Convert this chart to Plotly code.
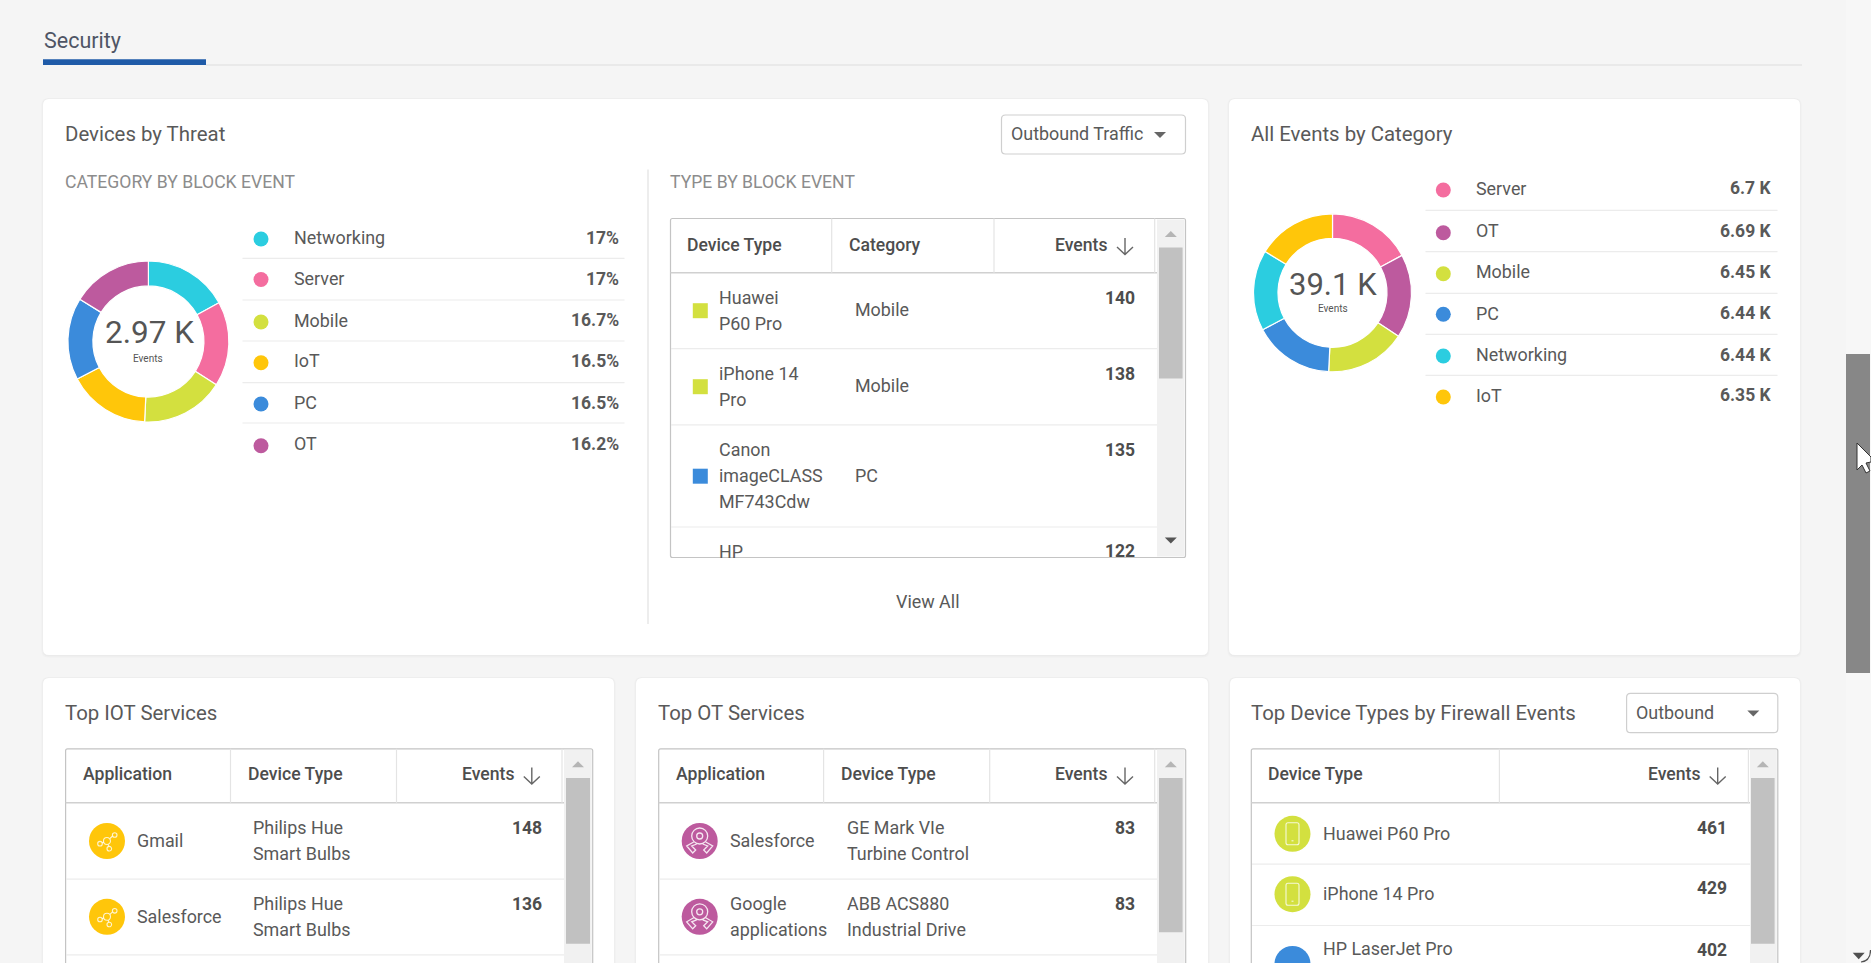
import plotly.graph_objects as go

WIDTH = 1871
HEIGHT = 963
FONT = "Roboto"
TEXT = "#595959"
DARK = "#4d4d4d"
LINE = "#ececec"
BODY = 17.9
HEAD = 17.6
VALUE = 17.5
TITLE = 20.4
LINE_GAP = 26

# Chart data
threat_categories = ["Networking", "Server", "Mobile", "IoT", "PC", "OT"]
threat_share = [17, 17, 16.7, 16.5, 16.5, 16.2]
threat_labels = ["17%", "17%", "16.7%", "16.5%", "16.5%", "16.2%"]
threat_total = "2.97 K"

all_categories = ["Server", "OT", "Mobile", "PC", "Networking", "IoT"]
all_events = [6700, 6690, 6450, 6440, 6440, 6350]
all_labels = ["6.7 K", "6.69 K", "6.45 K", "6.44 K", "6.44 K", "6.35 K"]
all_total = "39.1 K"

colors = {
    "Networking": "#2bcde0",
    "Server": "#f46d9f",
    "Mobile": "#d3e03f",
    "IoT": "#ffc60a",
    "PC": "#3b8bdb",
    "OT": "#bd5a9e",
}

type_names = ["Huawei<br>P60 Pro", "iPhone 14<br>Pro", "Canon<br>imageCLASS<br>MF743Cdw", "HP"]
type_categories = ["Mobile", "Mobile", "PC", ""]
type_events = ["140", "138", "135", "122"]

iot_apps = ["Gmail", "Salesforce"]
iot_devices = ["Philips Hue<br>Smart Bulbs", "Philips Hue<br>Smart Bulbs"]
iot_events = ["148", "136"]

ot_apps = ["Salesforce", "Google<br>applications"]
ot_devices = ["GE Mark VIe<br>Turbine Control", "ABB ACS880<br>Industrial Drive"]
ot_events = ["83", "83"]

firewall_devices = ["Huawei P60 Pro", "iPhone 14 Pro", "HP LaserJet Pro"]
firewall_events = ["461", "429", "402"]

shapes = []
annotations = []
marker_x, marker_y, marker_color, marker_symbol, marker_size = [], [], [], [], []


def rounded(x0, y0, x1, y1, r):
    return (f"M{x0+r},{y0} L{x1-r},{y0} Q{x1},{y0} {x1},{y0+r} L{x1},{y1-r} Q{x1},{y1} {x1-r},{y1} "
            f"L{x0+r},{y1} Q{x0},{y1} {x0},{y1-r} L{x0},{y0+r} Q{x0},{y0} {x0+r},{y0} Z")


def add_path(path, fill=None, color=None, width=1):
    shapes.append(dict(type="path", path=path, xref="x", yref="y", layer="below",
                       fillcolor=fill if fill else "rgba(0,0,0,0)",
                       line=dict(color=color if color else "rgba(0,0,0,0)", width=width if color else 0)))


def add_rect(x0, y0, x1, y1, fill):
    shapes.append(dict(type="rect", xref="x", yref="y", x0=x0, y0=y0, x1=x1, y1=y1,
                       fillcolor=fill, line=dict(width=0), layer="below"))


def add_line(x0, y0, x1, y1, color=LINE, width=1.2):
    shapes.append(dict(type="line", xref="x", yref="y", x0=x0, y0=y0, x1=x1, y1=y1,
                       line=dict(color=color, width=width), layer="below"))


def label(x, y, text, size=BODY, color=TEXT, anchor="left", weight=400):
    # each line is its own annotation so the line gap can follow the reference
    nudge = {"left": -1.5, "right": 2, "center": 0}[anchor]
    parts = text.split("<br>")
    for j, part in enumerate(parts):
        annotations.append(dict(x=x + nudge, y=y + (j - (len(parts) - 1) / 2) * LINE_GAP, xref="x", yref="y",
                                text=part, showarrow=False, xanchor=anchor, yanchor="middle", align=anchor,
                                borderpad=0, font=dict(family=FONT, size=size, color=color, weight=weight)))


def add_marker(x, y, color, symbol="circle", size=15):
    marker_x.append(x)
    marker_y.append(y)
    marker_color.append(color)
    marker_symbol.append(symbol)
    marker_size.append(size)


def card(x0, y0, x1, y1):
    add_path(rounded(x0 - 1.5, y0 - 1, x1 + 1.5, y1 + 2.5, 7), fill="#f0f0f0")
    add_path(rounded(x0 - 0.5, y0 - 0.5, x1 + 0.5, y1 + 1.2, 6), fill="#ebebeb")
    add_path(rounded(x0, y0, x1, y1, 6), fill="#ffffff")


def triangle(x, y, w, h, color, up=False):
    tip = y - h / 2 if up else y + h / 2
    base = y + h / 2 if up else y - h / 2
    add_path(f"M{x-w/2},{base} L{x+w/2},{base} L{x},{tip} Z", fill=color)


def dropdown(x0, y0, x1, y1, text, text_x, tri_x):
    add_path(rounded(x0, y0, x1, y1, 4), fill="#ffffff", color="#cfcfcf", width=1.2)
    label(text_x, (y0 + y1) / 2 - 1, text)
    triangle(tri_x, (y0 + y1) / 2 + 0.5, 12, 6, "#666666")


def sort_arrow(x, y):
    add_path(f"M{x},{y-8} L{x},{y+8.5} M{x-8},{y+1} L{x},{y+8.5} L{x+8},{y+1}", color="#666666", width=1.4)


def table_frame(x0, y0, x1, y1, head_y, seps, track_x, thumb, thumb_y):
    add_path(rounded(x0, y0, x1, y1, 2), fill="#ffffff", color="#c4c4c4", width=1.2)
    add_rect(track_x, y0 + 1, x1 - 1, y1 - 1, "#f1f1f1")
    add_line(x0, head_y, track_x, head_y, color="#d0d0d0", width=1.4)
    for s in seps:
        add_line(s, y0, s, head_y, color="#e4e4e4")
    add_rect(thumb[0], thumb_y[0], thumb[1], thumb_y[1], "#c1c1c1")
    triangle((thumb[0] + thumb[1]) / 2, y0 + 15.5, 12, 6, "#b5b5b5", up=True)


def legend(categories, labels, dot_x, dot_ys, text_x, text_ys, right_x, sep_x0, sep_x1, sep_ys):
    for i, cat in enumerate(categories):
        add_marker(dot_x, dot_ys[i], colors[cat])
        label(text_x, text_ys[i], cat)
        label(right_x, text_ys[i], labels[i], size=VALUE, anchor="right", weight=700)
    for y in sep_ys:
        add_line(sep_x0, y, sep_x1, y)


def donut(categories, values, cx, cy, r):
    return go.Pie(labels=categories, values=values, sort=False, direction="clockwise", rotation=0,
                  hole=0.69, textinfo="none", hoverinfo="label+value", showlegend=False,
                  marker=dict(colors=[colors[c] for c in categories], line=dict(color="#ffffff", width=1.2)),
                  domain=dict(x=[(cx - r) / WIDTH, (cx + r) / WIDTH],
                              y=[1 - (cy + r) / HEIGHT, 1 - (cy - r) / HEIGHT]))


def above_circle(cx, cy, r, stroke, width=1.1):
    shapes.append(dict(type="circle", xref="x", yref="y", x0=cx-r, y0=cy-r, x1=cx+r, y1=cy+r,
                       fillcolor="rgba(0,0,0,0)", line=dict(color=stroke, width=width), layer="above"))


def above_path(path, stroke, width=1.1):
    shapes.append(dict(type="path", xref="x", yref="y", layer="above", path=path, line=dict(color=stroke, width=width)))


def network_icon(cx, cy):
    stroke = "rgba(255,255,255,0.8)"
    above_path(f"M{cx-5},{cy+2} L{cx-3},{cy+1} M{cx+3},{cy-2.5} L{cx+5.5},{cy-5} M{cx+1},{cy+3.5} L{cx+2},{cy+5.5}", stroke)
    above_circle(cx, cy, 3.5, stroke)
    above_circle(cx - 7, cy + 2.7, 2.3, stroke)
    above_circle(cx + 7.7, cy - 6, 2.3, stroke)
    above_circle(cx + 2.3, cy + 7.7, 2.3, stroke)


def robot_icon(cx, cy):
    stroke = "rgba(255,255,255,0.85)"
    above_circle(cx, cy - 5, 8, stroke, 1.3)
    above_circle(cx, cy - 5, 3, stroke, 1.3)
    above_path(f"M{cx-6},{cy+1} L{cx-13},{cy+5} L{cx-7},{cy+12} L{cx-4},{cy+9} L{cx-8},{cy+5} L{cx-3},{cy+3} "
               f"M{cx+6},{cy+1} L{cx+13},{cy+5} L{cx+7},{cy+12} L{cx+4},{cy+9} L{cx+8},{cy+5} L{cx+3},{cy+3}", stroke, 1.3)


def phone_icon(cx, cy):
    stroke = "rgba(255,255,255,0.8)"
    above_path(rounded(cx-6.5, cy-11, cx+6.5, cy+11, 2), stroke)
    above_path(f"M{cx-1},{cy+7} L{cx+1},{cy+7}", stroke)


# Page
add_rect(1846, 0, 1871, HEIGHT, "#f7f7f7")
add_rect(1846, 354, 1870, 673, "#878787")
triangle(1858.7, 956, 12, 6.5, "#505050")
add_path("M1870.5,950 Q1870.5,961 1861,962", color="#505050", width=1.2)
add_path("M1857,443 L1857,470 L1862,465 L1866,473 L1870,471 L1866,463 L1871,462 L1871,457 Z",
         fill="#ffffff", color="#333333", width=1)

label(44, 40.5, "Security", size=21.5, color="#4f5565")
add_line(206, 65, 1802, 65, color="#dedede", width=1.2)
add_rect(43, 59.3, 206, 65, "#1f5ba8")

# Devices by Threat card
card(43, 99, 1208, 655)
label(65.5, 133.5, "Devices by Threat", size=TITLE)
label(65.5, 182, "CATEGORY BY BLOCK EVENT", size=17.6, color="#8c8c8c")
dropdown(1001.5, 115, 1185.5, 154, "Outbound Traffic", 1011.5, 1160)
add_line(648, 169.5, 648, 624, color="#e6e6e6", width=1.4)
label(670.5, 181.7, "TYPE BY BLOCK EVENT", size=17.6, color="#8c8c8c")

legend(threat_categories, threat_labels, 261, [239, 279.5, 322, 362.7, 404, 445.7], 294,
       [237.7, 278.7, 320, 360.5, 402.5, 443.5], 618, 242.5, 624.5, [258.3, 300, 341, 382.7, 423])
label(149, 332.7, threat_total, size=31.5, color="#555555", anchor="center")
label(148, 358, "Events", size=10, color="#555555", anchor="center")

# Device type table
table_frame(670.5, 218.5, 1185.5, 557.5, 272.8, [831.7, 994, 1154.7], 1157, (1159, 1182.6), (247.6, 378.6))
triangle(1170.8, 540.6, 12, 6, "#555555")
label(687.8, 244.6, "Device Type", size=HEAD, color=DARK, weight=500)
label(849, 244.6, "Category", size=HEAD, color=DARK, weight=500)
label(1105.7, 244.6, "Events", size=HEAD, color=DARK, anchor="right", weight=500)
sort_arrow(1125, 246)
for y in [348.6, 424.8, 527]:
    add_line(671, y, 1157, y)

type_mid = [309.5, 385.5, 475]
type_top = [297.5, 373.8, 450, 551]
type_text_y = [310.6, 386.9, 475]
for i in range(3):
    add_marker(700.3, type_mid[i] + 1.2, colors[type_categories[i]], "square", 15)
    label(719, type_text_y[i], type_names[i])
    label(855, type_mid[i], type_categories[i])
for i in range(4):
    label(1134, type_top[i], type_events[i], size=VALUE, color=DARK, anchor="right", weight=700)
label(719, 551, type_names[3])
label(927.7, 601.6, "View All", anchor="center")
annotations.append(dict(x=672, y=558.6, xref="x", yref="y", text=" ", showarrow=False, xanchor="left",
                        yanchor="top", width=480, height=12, bgcolor="#ffffff", borderpad=0))

# All Events card
card(1229, 99, 1800, 655)
label(1251, 134, "All Events by Category", size=TITLE)
legend(all_categories, all_labels, 1443.3, [190, 232.7, 273.7, 314.3, 356, 397], 1476,
       [188.3, 230.7, 271.7, 313.3, 354.7, 395.3], 1771, 1425.5, 1777.5, [210.3, 251.7, 293.3, 334.3, 375.3])
label(1333, 284, all_total, size=31, color="#555555", anchor="center")
label(1333, 308, "Events", size=10, color="#555555", anchor="center")

# Top IOT Services
card(43, 678, 614, 980)
label(65.5, 713, "Top IOT Services", size=TITLE)
table_frame(65.6, 748.8, 592.7, 990, 802.8, [230.5, 396.5, 562], 564, (566, 590), (778, 943.7))
label(83.4, 774.3, "Application", size=HEAD, color=DARK, weight=500)
label(248.7, 774.3, "Device Type", size=HEAD, color=DARK, weight=500)
label(512.8, 774.3, "Events", size=HEAD, color=DARK, anchor="right", weight=500)
sort_arrow(531.8, 775.5)
for y in [879.2, 954.8]:
    add_line(66, y, 564, y)
for i, row_y in enumerate([841, 916.8]):
    add_marker(107, row_y, colors["IoT"], size=36)
    network_icon(107, row_y)
    label(137.5, row_y - 0.5, iot_apps[i])
    label(253.8, row_y - 0.5, iot_devices[i])
    label(541, row_y - 13, iot_events[i], size=VALUE, color=DARK, anchor="right", weight=700)

# Top OT Services
card(636, 678, 1208, 980)
label(658.7, 713, "Top OT Services", size=TITLE)
table_frame(658.7, 748.8, 1185.7, 990, 802.8, [823.6, 989.7, 1154.7], 1157, (1159, 1182.6), (778, 932.3))
label(676.3, 774.3, "Application", size=HEAD, color=DARK, weight=500)
label(841.6, 774.3, "Device Type", size=HEAD, color=DARK, weight=500)
label(1105.7, 774.3, "Events", size=HEAD, color=DARK, anchor="right", weight=500)
sort_arrow(1125, 775.5)
for y in [879.2, 954.8]:
    add_line(659, y, 1157, y)
for i, row_y in enumerate([841, 916.8]):
    add_marker(699.7, row_y, colors["OT"], size=36)
    robot_icon(699.7, row_y)
    label(730, row_y - 0.5, ot_apps[i])
    label(847, row_y - 0.5, ot_devices[i])
    label(1134, row_y - 13, ot_events[i], size=VALUE, color=DARK, anchor="right", weight=700)

# Top Device Types by Firewall Events
card(1230, 678, 1800, 980)
label(1251.3, 713, "Top Device Types by Firewall Events", size=TITLE)
dropdown(1626.6, 693.3, 1777.8, 732.7, "Outbound", 1636, 1753.3)
table_frame(1251.3, 748.8, 1777.8, 990, 802.8, [1499.4, 1748.4], 1750, (1751, 1774.6), (778, 943.7))
label(1268.8, 774.3, "Device Type", size=HEAD, color=DARK, weight=500)
label(1698.5, 774.3, "Events", size=HEAD, color=DARK, anchor="right", weight=500)
sort_arrow(1717.7, 775.5)
for y in [864.2, 925.5]:
    add_line(1252, y, 1750, y)
firewall_y = [833.8, 894.2, 964]
firewall_color = [colors["Mobile"], colors["Mobile"], colors["PC"]]
firewall_text_y = [833, 893.3, 948.7]
firewall_value_y = [828.3, 888.2, 949.7]
for i in range(3):
    add_marker(1292.5, firewall_y[i], firewall_color[i], size=36)
    if i < 2:
        phone_icon(1292.5, firewall_y[i])
    label(1323, firewall_text_y[i], firewall_devices[i])
    label(1726, firewall_value_y[i], firewall_events[i], size=VALUE, color=DARK, anchor="right", weight=700)

fig = go.Figure()
fig.add_trace(go.Scatter(x=marker_x, y=marker_y, mode="markers", hoverinfo="skip", showlegend=False,
                         marker=dict(color=marker_color, symbol=marker_symbol, size=marker_size,
                                     opacity=1, line=dict(width=0))))
fig.add_trace(donut(threat_categories, threat_share, 148.4, 341.5, 80.5))
fig.add_trace(donut(all_categories, all_events, 1332.5, 292.8, 79))

fig.update_layout(
    width=WIDTH,
    height=HEIGHT,
    margin=dict(l=0, r=0, t=0, b=0),
    paper_bgcolor="#f5f5f5",
    plot_bgcolor="rgba(0,0,0,0)",
    xaxis=dict(range=[0, WIDTH], visible=False, fixedrange=True),
    yaxis=dict(range=[HEIGHT, 0], visible=False, fixedrange=True),
    shapes=shapes,
    annotations=annotations,
    font=dict(family=FONT),
)

# drop the browser's default body margin so the page fills the window
fig.write_html("out.html", config={"displayModeBar": False},
               post_script="document.body.style.margin='0';document.body.style.overflow='hidden';")
